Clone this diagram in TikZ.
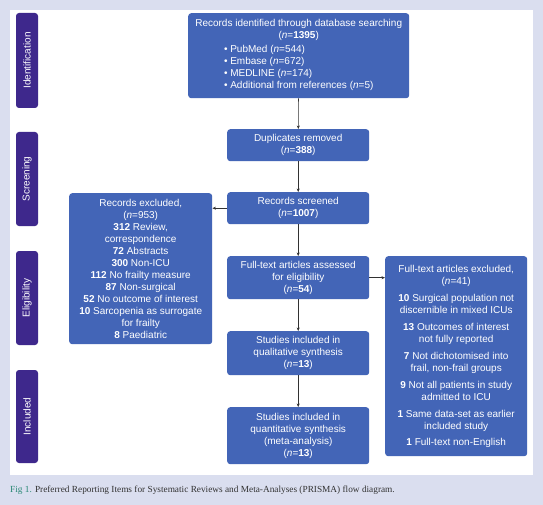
\documentclass[tikz,border=0pt]{standalone}
\usepackage{fontspec}
\setmainfont{Liberation Sans}
\newfontfamily\capfont{Liberation Serif}
\usetikzlibrary{arrows.meta}
\definecolor{boxblue}{RGB}{67,101,183}
\definecolor{sidepurple}{RGB}{62,40,140}
\definecolor{bgcol}{RGB}{218,222,239}
\definecolor{capteal}{RGB}{40,135,115}
\definecolor{capgray}{RGB}{50,50,50}
\definecolor{arrowgray}{RGB}{50,50,50}
\tikzset{
  box/.style={fill=boxblue, rounded corners=3pt, text=white, font=\fontsize{10}{12}\selectfont, align=center, inner sep=0pt, anchor=north west},
  sidebox/.style={fill=sidepurple, rounded corners=3pt, text=white, font=\fontsize{10}{12}\selectfont, inner sep=0pt, rotate=90, minimum height=22pt},
  flow/.style={draw=arrowgray, line width=0.6pt, -{Stealth[length=3.5pt,width=3pt]}}
}
\begin{document}
\begin{tikzpicture}[x=1pt,y=-1pt]
\useasboundingbox (0,0) rectangle (543,505);
\fill[bgcol] (0,0) rectangle (543,505);
\fill[white] (10,10) rectangle (533,475);
% side labels
\node[sidebox, minimum width=95pt] (sid) at (27,60.5) {Identification};
\node[sidebox, minimum width=94pt] (sscr) at (27,179) {Screening};
\node[sidebox, minimum width=94pt] (selig) at (27,298) {Eligibility};
\node[sidebox, minimum width=93pt] (sinc) at (27,416.5) {Included};
% main boxes
\node[box, minimum width=221pt, minimum height=85pt] (ident) at (188,13) {Records identified through database searching\\(\textit{n}=\textbf{1395})\\[3pt]
\begin{tabular}{@{}l@{}}
• PubMed (\textit{n}=544)\\
• Embase (\textit{n}=672)\\
• MEDLINE (\textit{n}=174)\\
• Additional from references (\textit{n}=5)
\end{tabular}};
\node[box, minimum width=142pt, minimum height=32pt] (dup) at (227,129) {Duplicates removed\\(\textit{n}=\textbf{388})};
\node[box, minimum width=142pt, minimum height=32pt] (scr) at (227,192) {Records screened\\(\textit{n}=\textbf{1007})};
\node[box, minimum width=142pt, minimum height=43pt] (full) at (227,256) {Full-text articles assessed\\for eligibility\\(\textit{n}=\textbf{54})};
\node[box, minimum width=142pt, minimum height=44pt] (qual) at (227,331) {Studies included in\\qualitative synthesis\\(\textit{n}=\textbf{13})};
\node[box, minimum width=142pt, minimum height=57pt] (quant) at (227,407) {Studies included in\\quantitative synthesis\\(meta-analysis)\\(\textit{n}=\textbf{13})};
\node[box, minimum width=143pt, minimum height=151pt] (excl) at (69,193) {Records excluded,\\(\textit{n}=953)\\\textbf{312} Review,\\correspondence\\\textbf{72} Abstracts\\\textbf{300} Non-ICU\\\textbf{112} No frailty measure\\\textbf{87} Non-surgical\\\textbf{52} No outcome of interest\\\textbf{10} Sarcopenia as surrogate\\for frailty\\\textbf{8} Paediatric};
\node[box, minimum width=142pt, minimum height=200pt] (fexcl) at (385,256) {Full-text articles excluded,\\(\textit{n}=41)\\[5pt]\textbf{10} Surgical population not\\discernible in mixed ICUs\\[5pt]\textbf{13} Outcomes of interest\\not fully reported\\[5pt]\textbf{7} Not dichotomised into\\frail, non-frail groups\\[5pt]\textbf{9} Not all patients in study\\admitted to ICU\\[5pt]\textbf{1} Same data-set as earlier\\included study\\[4pt]\textbf{1} Full-text non-English};
% connectors
\draw[flow] (ident) -- (dup);
\draw[flow] (dup) -- (scr);
\draw[flow] (scr) -- (full);
\draw[flow] (full) -- (qual);
\draw[flow] (qual) -- (quant);
\draw[flow] (scr.west) -- (scr.west -| excl.east);
\draw[flow] (full.east) -- (full.east -| fexcl.west);
% caption
\node[anchor=west, inner sep=0pt, font=\capfont\fontsize{9.3}{11}\selectfont, text=capgray] (cap) at (10,490) {\textcolor{capteal}{Fig 1.} Preferred Reporting Items for Systematic Reviews and Meta-Analyses (PRISMA) flow diagram.};
\end{tikzpicture}
\end{document}
